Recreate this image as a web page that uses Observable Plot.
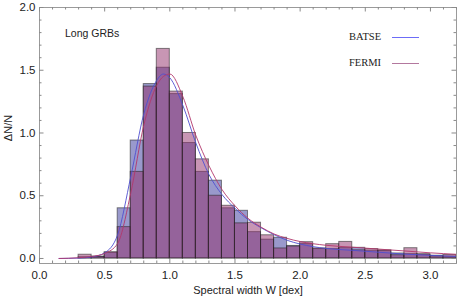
<!DOCTYPE html>
<html><head><meta charset="utf-8">
<script src="https://cdn.jsdelivr.net/npm/d3@7"></script>
<script src="https://cdn.jsdelivr.net/npm/@observablehq/plot@0.6"></script>
<style>
body{margin:0;background:#fff;}
#wrap{position:relative;width:457px;height:300px;}
.leg{position:absolute;font-family:"Liberation Serif","DejaVu Serif",serif;font-size:10.5px;line-height:12px;color:#222;}
.legline{position:absolute;width:27px;height:1.3px;}
.lab{position:absolute;font-family:"Liberation Sans",Arial,sans-serif;color:#222;line-height:12px;white-space:nowrap;}
</style></head><body><div id="wrap"></div>
<script>
// histogram bins (left edges, width 0.1 dex)
const binStart = [0.3,0.4,0.5,0.6,0.7,0.8,0.9,1.0,1.1,1.2,1.3,1.4,1.5,1.6,1.7,1.8,1.9,2.0,2.1,2.2,2.3,2.4,2.5,2.6,2.7,2.8,2.9,3.0,3.1];
const binWidth = 0.1;
const batse = [0.01,0.015,0.045,0.40,0.94,1.39,1.52,1.31,0.92,0.69,0.62,0.40,0.38,0.21,0.15,0.165,0.10,0.115,0.075,0.075,0.085,0.085,0.062,0.06,0.04,0.035,0.03,0.022,0.015];
const fermi = [0.03,0.012,0.05,0.25,0.69,1.37,1.67,1.33,1.00,0.79,0.50,0.42,0.28,0.285,0.185,0.08,0.095,0.13,0.08,0.114,0.132,0.065,0.075,0.065,0.026,0.082,0.034,0.017,0.028];
// fitted curves
const curveX = [0.15,0.3,0.4,0.5,0.6,0.7,0.8,0.9,0.95,1.0,1.1,1.2,1.3,1.4,1.5,1.6,1.7,1.8,1.9,2.0,2.2,2.4,2.6,2.8,3.0,3.2];
const batseCurve = [0,0.003,0.012,0.045,0.19,0.65,1.15,1.42,1.47,1.44,1.22,0.92,0.67,0.51,0.40,0.31,0.245,0.19,0.145,0.115,0.08,0.065,0.05,0.035,0.025,0.016];
const fermiCurve = [0,0.006,0.016,0.04,0.12,0.52,1.06,1.38,1.45,1.47,1.29,0.98,0.74,0.55,0.42,0.32,0.25,0.195,0.16,0.135,0.105,0.09,0.075,0.06,0.045,0.033];
// ticks
const xMajor = [0,0.5,1,1.5,2,2.5,3];
const xMinor = [0.1,0.2,0.3,0.4,0.6,0.7,0.8,0.9,1.1,1.2,1.3,1.4,1.6,1.7,1.8,1.9,2.1,2.2,2.3,2.4,2.6,2.7,2.8,2.9,3.1,3.2];
const yMajor = [0,0.5,1,1.5,2];
const yMinor = [0.1,0.2,0.3,0.4,0.6,0.7,0.8,0.9,1.1,1.2,1.3,1.4,1.6,1.7,1.8,1.9];
const seriesNames = ["BATSE","FERMI"];
const xTitle = "Spectral width W [dex]";
const yTitle = "ΔN/N";
const panelLabel = "Long GRBs";

const bars = binStart.map((x,i)=>({x1:x, x2:x+binWidth, batse:batse[i], fermi:fermi[i]}));
const bCurve = curveX.map((x,i)=>({x, y:batseCurve[i]}));
const fCurve = curveX.map((x,i)=>({x, y:fermiCurve[i]}));

const W = 457, H = 300, mL = 39, mR = 1, mT = 7, mB = 37;
const fH = H - mT - mB, fW = W - mL - mR;
const tickCol = "#8a8a8a";

const chart = Plot.plot({
  width: W, height: H, marginLeft: mL, marginRight: mR, marginTop: mT, marginBottom: mB,
  x: {domain: [0, 3.2]},
  y: {domain: [-0.04, 2.0]},
  style: {fontFamily: "'Liberation Sans', Arial, sans-serif", fontSize: "11px", color: "#222", background: "#fff"},
  marks: [
    Plot.rect(bars, {x1: "x1", x2: "x2", y1: 0, y2: "batse", fill: "#333399", fillOpacity: 0.5, stroke: "#222", strokeOpacity: 0.55, strokeWidth: 1}),
    Plot.rect(bars, {x1: "x1", x2: "x2", y1: 0, y2: "fermi", fill: "#912d69", fillOpacity: 0.5, stroke: "#222", strokeOpacity: 0.55, strokeWidth: 1}),
    Plot.line(bCurve, {x: "x", y: "y", stroke: "#4f4fd0", strokeWidth: 0.9, curve: "monotone-x"}),
    Plot.line(fCurve, {x: "x", y: "y", stroke: "#b2386c", strokeWidth: 0.9, curve: "monotone-x"}),
    Plot.frame({stroke: "#9a9a9a"}),
    // inward ticks bottom/top
    Plot.tickX(xMajor, {x: d => d, insetTop: fH - 4.5, stroke: tickCol}),
    Plot.tickX(xMinor, {x: d => d, insetTop: fH - 2.5, stroke: tickCol}),
    Plot.tickX(xMajor, {x: d => d, insetBottom: fH - 4.5, stroke: tickCol}),
    Plot.tickX(xMinor, {x: d => d, insetBottom: fH - 2.5, stroke: tickCol}),
    // inward ticks left/right
    Plot.tickY(yMajor, {y: d => d, insetRight: fW - 4.5, stroke: tickCol}),
    Plot.tickY(yMinor, {y: d => d, insetRight: fW - 2.5, stroke: tickCol}),
    Plot.tickY(yMajor, {y: d => d, insetLeft: fW - 4.5, stroke: tickCol}),
    Plot.tickY(yMinor, {y: d => d, insetLeft: fW - 2.5, stroke: tickCol}),
    // tick labels
    Plot.axisX({ticks: xMajor, tickSize: 0, tickPadding: 7.5, tickFormat: d3.format(".1f"), label: null, fontSize: 11.5}),
    Plot.axisY({ticks: yMajor, tickSize: 0, tickPadding: 4, tickFormat: d3.format(".1f"), label: null, fontSize: 11.5})
  ]
});
const wrap = document.getElementById("wrap");
wrap.appendChild(chart);

function addLabel(text, css) {
  const d = document.createElement("div");
  d.className = "lab"; d.textContent = text;
  Object.assign(d.style, css);
  wrap.appendChild(d);
  return d;
}
// x title centred at (248, 290)
addLabel(xTitle, {left: "248px", top: "284px", fontSize: "11px", transform: "translateX(-50%)"});
// y title rotated, centred at (8, 128)
addLabel(yTitle, {left: "8px", top: "128px", fontSize: "11px", transform: "translate(-50%,-50%) rotate(-90deg)"});
// panel label
addLabel(panelLabel, {left: "65px", top: "27px", fontSize: "10.5px"});

// legend overlay
const legColors = ["#6c6cf7", "#b3789e"];
const legTop = [31, 57];
seriesNames.forEach((name, i) => {
  const t = document.createElement("div");
  t.className = "leg"; t.textContent = name;
  t.style.left = "349px"; t.style.top = legTop[i] + "px";
  wrap.appendChild(t);
  const l = document.createElement("div");
  l.className = "legline";
  l.style.left = "392px"; l.style.top = (legTop[i] + 6) + "px";
  l.style.background = legColors[i];
  wrap.appendChild(l);
});
</script>
</body></html>
